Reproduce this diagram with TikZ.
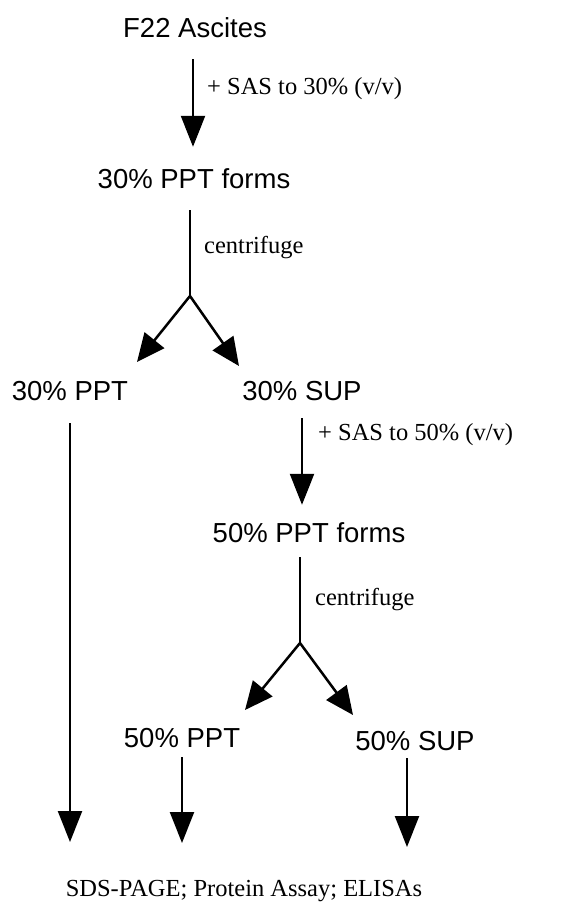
\documentclass[tikz,border=0pt]{standalone}
\usepackage{fontspec}
\setmainfont{Liberation Serif}
\setsansfont{Liberation Sans}
\usetikzlibrary{arrows.meta}
\tikzset{
  stage/.style={font=\sffamily\fontsize{27.5}{31}\selectfont, inner sep=0pt, text height=19pt, text depth=0pt, anchor=base},
  note/.style={font=\fontsize{24.5}{28}\selectfont, inner sep=0pt, anchor=base west},
  flow/.style={line width=2.3pt, -{Triangle[length=31pt,width=24pt]}},
  forkarr/.style={line width=2.5pt, -{Triangle[length=28pt,width=25pt]}},
  plain/.style={line width=2.3pt}
}
\begin{document}
\begin{tikzpicture}[x=1pt,y=-1pt]
\useasboundingbox (0,0) rectangle (584,902);
% stages
\node[stage] (f22) at (195,37) {F22 Ascites};
\node[stage] (ppt30f) at (194,188) {30\% PPT forms};
\node[stage] (ppt30) at (70,400) {30\% PPT};
\node[stage] (sup30) at (302,400) {30\% SUP};
\node[stage] (ppt50f) at (309,542) {50\% PPT forms};
\node[stage] (ppt50) at (182,747) {50\% PPT};
\node[stage] (sup50) at (415,750) {50\% SUP};
\node[font=\fontsize{24.5}{28}\selectfont, inner sep=0pt, anchor=base] (assay) at (244,896) {SDS-PAGE; Protein Assay; ELISAs};
% notes
\node[note] (n1) at (207,94) {+ SAS to 30\% (v/v)};
\node[note] (c1) at (204,253) {centrifuge};
\node[note] (n2) at (318,440) {+ SAS to 50\% (v/v)};
\node[note] (c2) at (315,605) {centrifuge};
% coordinates
\coordinate (fork1) at (190,296);
\coordinate (t1) at (137,362);
\coordinate (t2) at (239,366);
\coordinate (fork2) at (300,643);
\coordinate (t3) at (245,710);
\coordinate (t4) at (353,715);
\coordinate (t5) at (70,842);
\coordinate (t6) at (182,843);
\coordinate (t7) at (407,847);
% connectors
\draw[flow, shorten <=22pt, shorten >=22pt] (f22.south -| 193,0) -- (ppt30f.north -| 193,0);
\draw[plain, shorten <=22pt] (ppt30f.south -| fork1) -- (fork1);
\draw[forkarr] (fork1) -- (t1);
\draw[forkarr] (fork1) -- (t2);
\draw[flow, shorten <=18pt, shorten >=18pt] (sup30.south) -- (ppt50f.north -| sup30.south);
\draw[plain, shorten <=15pt] (ppt50f.south -| fork2) -- (fork2);
\draw[forkarr] (fork2) -- (t3);
\draw[forkarr] (fork2) -- (t4);
\draw[flow, shorten <=23pt] (ppt30.south -| t5) -- (t5);
\draw[flow, shorten <=10pt] (ppt50.south -| t6) -- (t6);
\draw[flow, shorten <=8pt] (sup50.south -| t7) -- (t7);
\end{tikzpicture}
\end{document}
